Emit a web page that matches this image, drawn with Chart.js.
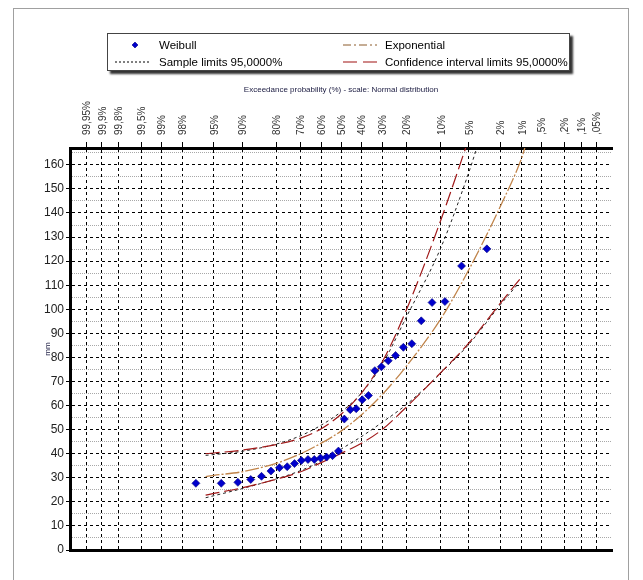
<!DOCTYPE html>
<html lang="en">
<head>
    <meta charset="UTF-8">
    <title>Exceedance probability - Normal distribution</title>
    <script src="https://cdn.jsdelivr.net/npm/chart.js"></script>
    <style>
        body {
            margin: 0;
            background: #fff;
            font-family: "Liberation Sans", Arial, sans-serif;
        }
        #wrap {
            position: relative;
            width: 643px;
            height: 580px;
            overflow: hidden;
        }
        #frame {
            position: absolute;
            left: 13px;
            top: 8px;
            width: 614px;
            height: 600px;
            border: 1px solid #a0a0a0;
        }
        #legend {
            position: absolute;
            left: 107px;
            top: 33px;
            width: 463px;
            height: 38px;
            box-sizing: border-box;
            border: 1px solid #444;
            background: #fff;
            box-shadow: 3px 3px 2px #333;
        }
        #legend span {
            position: absolute;
            font-size: 11.5px;
            line-height: 14px;
            color: #000;
            white-space: nowrap;
        }
        canvas {
            position: absolute;
            left: 0;
            top: 0;
        }
    </style>
</head>
<body>
<div id="wrap">
    <div id="frame"></div>
    <canvas id="probChart" width="643" height="580"></canvas>
    <div id="legend">
        <svg width="463" height="38" style="position:absolute;left:0;top:0">
            <path d="M27 8 L30 11 L27 14 L24 11 Z" fill="#0000cc" stroke="#000080" stroke-width="0.6"/>
            <line x1="235" y1="11" x2="269" y2="11" stroke="#8b5a2b" stroke-width="1" stroke-dasharray="8 3 2 3"/>
            <line x1="7" y1="28" x2="41" y2="28" stroke="#000" stroke-width="1" stroke-dasharray="2 2"/>
            <line x1="235" y1="28" x2="269" y2="28" stroke="#a01010" stroke-width="1.2" stroke-dasharray="14 6"/>
        </svg>
        <span style="left:51px;top:4px">Weibull</span>
        <span style="left:277px;top:4px">Exponential</span>
        <span style="left:51px;top:21px">Sample limits 95,0000%</span>
        <span style="left:277px;top:21px">Confidence interval limits 95,0000%</span>
    </div>
</div>

<script>
    // Exceedance probability ticks (%) and their labels
    const probTicks = [99.95, 99.9, 99.8, 99.5, 99, 98, 95, 90, 80, 70, 60, 50, 40, 30, 20, 10, 5, 2, 1, 0.5, 0.2, 0.1, 0.05];
    const probLabels = ['99,95%', '99,9%', '99,8%', '99,5%', '99%', '98%', '95%', '90%', '80%', '70%', '60%', '50%',
        '40%', '30%', '20%', '10%', '5%', '2%', '1%', ',5%', ',2%', ',1%', ',05%'];

    // Weibull plotting positions (%) and observed values (mm)
    const weibullProb = [96.97, 93.94, 90.91, 87.88, 84.85, 81.82, 78.79, 75.76, 72.73, 69.70, 66.67, 63.64,
        60.61, 57.58, 54.55, 51.52, 48.48, 45.45, 42.42, 39.39, 36.36, 33.33, 30.30, 27.27,
        24.24, 21.21, 18.18, 15.15, 12.12, 9.09, 6.06, 3.03];
    const weibullMm = [27.7, 27.7, 28.1, 29.3, 30.6, 32.8, 34.2, 34.6, 35.9, 37.2, 37.6, 37.6,
        38.2, 38.6, 39.2, 41.1, 54.4, 58.3, 58.7, 62.4, 64.2, 74.5, 76.1, 78.6,
        80.8, 84.2, 85.7, 95.2, 102.8, 103.2, 118.0, 125.1];

    // Exponential fit
    const expProb = [96, 95, 90, 80, 70, 60, 50, 40, 30, 20, 10, 5, 2, 1, 0.9];
    const expMm = [30.5, 31, 32.5, 36, 40, 44.5, 49.5, 56, 64.5, 76.5, 96, 116.5, 143, 163, 167];

    // Confidence interval limits 95%
    const ciUpProb = [96, 95, 90, 80, 70, 60, 50, 40, 30, 20, 10, 5];
    const ciUpMm = [40, 40.3, 41.5, 43.8, 46.5, 50.5, 56.5, 65, 78, 100, 137, 171];
    const ciLowProb = [96, 95, 90, 80, 70, 60, 50, 40, 30, 20, 10, 5, 2, 1];
    const ciLowMm = [22.8, 23.5, 25.8, 29.4, 32.5, 36.4, 40.2, 44.2, 50, 59.5, 73.7, 86, 102.7, 113.5];

    // Sample limits 95%
    const smpUpProb = [96, 90, 80, 70, 60, 50, 40, 30, 20, 10, 5, 4];
    const smpUpMm = [39.3, 41, 44, 47.5, 52, 57.5, 65, 77, 97, 125.5, 157, 167.5];
    const smpLowProb = [96, 90, 80, 70, 60, 50, 40, 30, 20, 10, 5, 2, 1.1];
    const smpLowMm = [21.7, 25.5, 29.5, 33, 37, 42, 47, 53, 60.5, 73.5, 85.5, 102, 111];

    // inverse of the standard normal CDF (Acklam)
    function normInv(p) {
        const a = [-3.969683028665376e+01, 2.209460984245205e+02, -2.759285104469687e+02, 1.383577518672690e+02, -3.066479806614716e+01, 2.506628277459239e+00];
        const b = [-5.447609879822406e+01, 1.615858368580409e+02, -1.556989798598866e+02, 6.680131188771972e+01, -1.328068155288572e+01];
        const c = [-7.784894002430293e-03, -3.223964580411365e-01, -2.400758277161838e+00, -2.549732539343734e+00, 4.374664141464968e+00, 2.938163982698783e+00];
        const d = [7.784695709041462e-03, 3.224671290700398e-01, 2.445134137142996e+00, 3.754408661907416e+00];
        const pl = 0.02425;
        let q, r;
        if (p < pl) {
            q = Math.sqrt(-2 * Math.log(p));
            return (((((c[0] * q + c[1]) * q + c[2]) * q + c[3]) * q + c[4]) * q + c[5]) / ((((d[0] * q + d[1]) * q + d[2]) * q + d[3]) * q + 1);
        }
        if (p <= 1 - pl) {
            q = p - 0.5;
            r = q * q;
            return (((((a[0] * r + a[1]) * r + a[2]) * r + a[3]) * r + a[4]) * r + a[5]) * q / (((((b[0] * r + b[1]) * r + b[2]) * r + b[3]) * r + b[4]) * r + 1);
        }
        q = Math.sqrt(-2 * Math.log(1 - p));
        return -(((((c[0] * q + c[1]) * q + c[2]) * q + c[3]) * q + c[4]) * q + c[5]) / ((((d[0] * q + d[1]) * q + d[2]) * q + d[3]) * q + 1);
    }

    // exceedance % -> position on the normal probability scale
    const zOf = pct => normInv(1 - pct / 100);
    const toPoints = (probs, vals) => probs.map((p, i) => ({ x: zOf(p), y: vals[i] }));

    const FONT = '"Liberation Sans", Arial, sans-serif';

    const lineSet = (label, probs, vals, color, dash, width) => ({
        label: label,
        data: toPoints(probs, vals),
        showLine: true,
        borderColor: color,
        borderWidth: width,
        borderDash: dash,
        pointRadius: 0,
        cubicInterpolationMode: 'monotone',
        fill: false
    });

    const ctx = document.getElementById('probChart').getContext('2d');
    const probChart = new Chart(ctx, {
        type: 'scatter',
        data: {
            datasets: [
                {
                    label: 'Weibull',
                    data: toPoints(weibullProb, weibullMm),
                    pointStyle: 'rectRot',
                    pointRadius: 4,
                    backgroundColor: '#0000cc',
                    borderColor: '#000080',
                    borderWidth: 0.6
                },
                lineSet('Exponential', expProb, expMm, '#c0844a', [14, 2, 2, 2], 1.3),
                lineSet('Confidence upper', ciUpProb, ciUpMm, '#a01818', [14, 5], 1.2),
                lineSet('Confidence lower', ciLowProb, ciLowMm, '#a01818', [14, 5], 1.2),
                lineSet('Sample upper', smpUpProb, smpUpMm, '#222', [3, 3], 1),
                lineSet('Sample lower', smpLowProb, smpLowMm, '#222', [3, 3], 1)
            ]
        },
        options: {
            responsive: false,
            animation: false,
            layout: {
                padding: { left: 0, top: 0, right: 31, bottom: 0 }
            },
            scales: {
                x: {
                    type: 'linear',
                    position: 'top',
                    min: -3.5,
                    max: 3.49,
                    afterBuildTicks: scale => {
                        scale.ticks = probTicks.map(p => ({ value: zOf(p) }));
                    },
                    afterFit: scale => { scale.height = 148; },
                    ticks: {
                        autoSkip: false,
                        minRotation: 90,
                        maxRotation: 90,
                        padding: 7,
                        labelOffset: 13,
                        color: '#333',
                        font: { family: FONT, size: 10 },
                        callback: (value, index) => probLabels[index]
                    },
                    grid: {
                        color: '#000',
                        lineWidth: 1,
                        tickLength: 6,
                        tickColor: '#000'
                    },
                    border: { display: true, color: '#000', width: 3, dash: [3, 3] },
                    title: {
                        display: true,
                        text: 'Exceedance probability (%) - scale: Normal distribution',
                        color: '#1a1a40',
                        font: { family: FONT, size: 8 },
                        padding: { top: 85, bottom: 0 }
                    }
                },
                x2: {
                    type: 'linear',
                    position: 'bottom',
                    min: -3.5,
                    max: 3.49,
                    afterFit: scale => { scale.height = 30; },
                    ticks: { display: false },
                    grid: { display: false, drawTicks: false },
                    border: { display: true, color: '#000', width: 3 }
                },
                y: {
                    position: 'left',
                    min: 0,
                    max: 167,
                    afterFit: scale => { scale.width = 70; },
                    ticks: {
                        stepSize: 10,
                        includeBounds: false,
                        padding: 2,
                        color: '#222',
                        font: { family: FONT, size: 12 }
                    },
                    grid: {
                        color: '#000',
                        lineWidth: 1,
                        tickLength: 4,
                        tickColor: '#000'
                    },
                    border: { display: true, color: '#000', width: 3, dash: [3, 3] },
                    title: {
                        display: true,
                        text: 'mm',
                        color: '#1a1a40',
                        font: { family: FONT, size: 8 },
                        padding: { top: 43, bottom: 0 }
                    }
                },
                y2: {
                    position: 'left',
                    min: 0,
                    max: 167,
                    afterFit: scale => { scale.width = 0; },
                    ticks: { display: false, stepSize: 5, includeBounds: false },
                    grid: {
                        drawTicks: false,
                        lineWidth: 1,
                        color: c => (c.tick && c.tick.value % 10 !== 0) ? '#a8a8a8' : 'rgba(0,0,0,0)'
                    },
                    border: { display: false, dash: [1, 1] }
                }
            },
            plugins: {
                legend: { display: false },
                tooltip: { enabled: false }
            }
        }
    });
</script>
</body>
</html>
